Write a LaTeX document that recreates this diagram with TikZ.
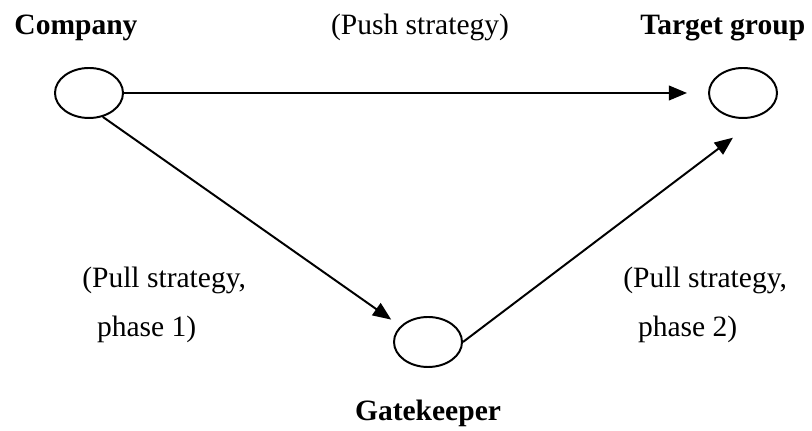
\documentclass[tikz,border=0pt]{standalone}
\usepackage{fontspec}
\setmainfont{Liberation Serif}
\usetikzlibrary{shapes,arrows.meta,positioning,calc}

\begin{document}
\begin{tikzpicture}[
    actor/.style={draw, ellipse, line width=1.4pt, minimum width=1.7cm, minimum height=1.25cm, inner sep=0pt},
    flow/.style={line width=1.4pt, -{Triangle[length=13pt, width=10.5pt]}},
    title/.style={font=\fontsize{21}{25}\selectfont\bfseries, anchor=base, inner sep=0pt},
    note/.style={font=\fontsize{21}{35}\selectfont, align=left, inner sep=0pt}
]
    \useasboundingbox (0,0) rectangle (20.3,10.775);

    % Actors
    \node[actor] (company) at (2.225,8.45) {};
    \node[actor] (target) at (18.575,8.45) {};
    \node[actor] (gate) at (10.7,2.225) {};

    % Labels of the actors
    \node[title] (companylbl) at (1.9,9.9) {Company};
    \node[title, anchor=base west] (targetlbl) at (16.0,9.9) {Target group};
    \node[title] (gatelbl) at (10.7,0.25) {Gatekeeper};

    % Strategy labels
    \node[note, anchor=base] (push) at (10.5,9.9) {(Push strategy)};
    \node[note, anchor=base west] (pull1) at (2.05,2.35) {(Pull strategy,\\\hspace{0.5em}phase 1)};
    \node[note, anchor=base west] (pull2) at (15.575,2.35) {(Pull strategy,\\\hspace{0.5em}phase 2)};

    % Push: company straight to the target group
    \draw[flow, shorten >=0.525cm] (company.east) -- (target.west);
    % Pull: via the gatekeeper
    \draw[flow, shorten >=0.28cm] (company.-60) -- (gate.150);
    \draw[flow, shorten >=1.07cm] (gate.east) -- (target.-38);
\end{tikzpicture}
\end{document}
